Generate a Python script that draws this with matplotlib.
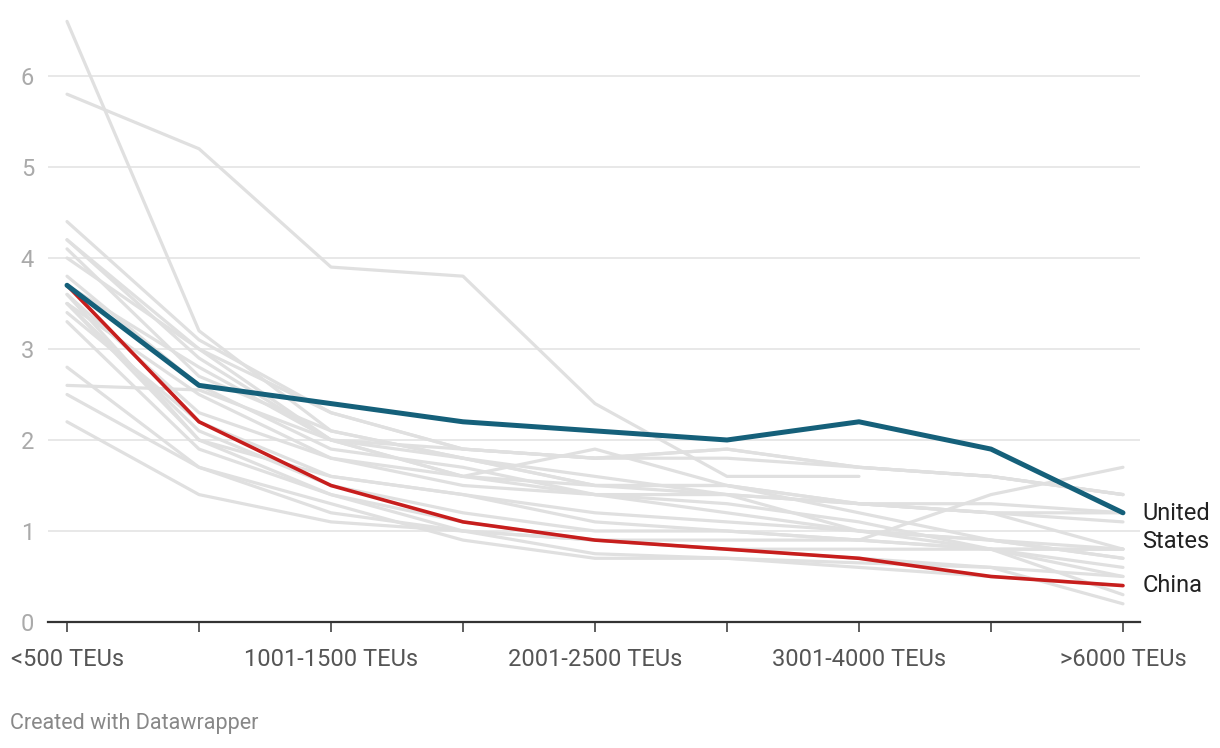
import numpy as np
import matplotlib
matplotlib.use('Agg')
import matplotlib.pyplot as plt

plt.rcParams['font.family'] = ['Roboto', 'DejaVu Sans']

# categories (only every other one is labelled in the chart)
categories = ['<500 TEUs', '501-1000 TEUs', '1001-1500 TEUs', '1501-2000 TEUs',
              '2001-2500 TEUs', '2501-3000 TEUs', '3001-4000 TEUs',
              '4001-6000 TEUs', '>6000 TEUs']
shown_labels = ['<500 TEUs', '', '1001-1500 TEUs', '', '2001-2500 TEUs', '',
                '3001-4000 TEUs', '', '>6000 TEUs']

united_states = [3.7, 2.6, 2.4, 2.2, 2.1, 2.0, 2.2, 1.9, 1.2]
china = [3.7, 2.2, 1.5, 1.1, 0.9, 0.8, 0.7, 0.5, 0.4]

nan = np.nan
# other countries, drawn in grey
others = [
    [6.6, 3.2, 2.1, 1.8, 1.5, 1.5, 1.3, 1.2, 1.1],
    [5.8, 5.2, 3.9, 3.8, 2.4, 1.6, 1.6, nan, nan],
    [4.4, 3.1, 2.3, 1.9, 1.8, 1.9, 1.7, 1.6, 1.4],
    [4.2, 2.9, 2.0, 1.6, 1.9, 1.5, 1.3, 1.2, 0.8],
    [4.1, 2.7, 2.1, 1.8, 1.6, 1.4, 1.3, 1.3, 1.2],
    [4.0, 3.0, 2.0, 1.8, 1.5, 1.5, 1.2, 0.9, 0.7],
    [3.8, 2.6, 1.9, 1.7, 1.4, 1.2, 1.0, 0.8, 0.5],
    [3.6, 2.0, 1.6, 1.4, 1.2, 1.1, 1.0, 0.9, 0.8],
    [3.5, 2.5, 1.8, 1.5, 1.4, 1.3, 1.1, 0.8, 0.3],
    [3.5, 2.1, 1.5, 1.2, 1.0, 1.0, 0.9, 0.8, 0.6],
    [3.3, 1.9, 1.4, 1.0, 0.9, 0.8, 0.7, 0.6, 0.5],
    [2.8, 1.7, 1.3, 0.9, 0.7, 0.7, 0.65, 0.6, 0.2],
    [2.6, 2.55, 2.0, 1.9, 1.8, 1.9, 1.7, 1.6, 1.4],
    [2.5, 1.7, 1.2, 1.0, 0.9, 0.9, 0.9, 1.4, 1.7],
    [2.2, 1.4, 1.1, 1.0, 0.75, 0.7, 0.6, 0.5, 0.4],
    [3.7, 2.8, 2.0, 1.6, 1.4, 1.4, 1.3, 1.2, 1.2],
    [4.2, 3.0, 2.3, 1.9, 1.8, 1.8, 1.7, 1.6, 1.4],
    [3.4, 2.2, 1.6, 1.4, 1.1, 1.0, 0.9, 0.8, 0.8],
    [3.6, 2.3, 1.8, 1.6, 1.5, 1.4, 1.0, 0.9, 0.7],
    [3.5, 2.0, 1.4, 1.1, 0.9, 0.8, 0.8, 0.8, 0.8],
]

fig = plt.figure(figsize=(12.2, 7.48), dpi=100)
ax = fig.add_axes([48 / 1220, 126 / 748, (1140 - 48) / 1220, (622 - 15) / 748])

x = np.arange(len(categories))
for row in others:
    ax.plot(x, row, color='#e0e0e0', lw=2.3, solid_capstyle='round', zorder=2)
ax.plot(x, china, color='#c71e1d', lw=2.6, solid_capstyle='round', zorder=4)
ax.plot(x, united_states, color='#15607a', lw=3.6, solid_capstyle='round', zorder=5)

ax.set_xlim(-0.144, 8.129)
ax.set_ylim(0, 6.67)

# gridlines
for v in range(1, 7):
    ax.axhline(v, color='#e6e6e6', lw=1.3, zorder=1)
ax.axhline(0, color='#333333', lw=1.6, zorder=6, clip_on=False)

for s in ax.spines.values():
    s.set_visible(False)

ax.set_yticks(range(0, 7))
ax.set_yticklabels([str(v) for v in range(0, 7)])
ax.tick_params(axis='y', length=0, pad=10, labelsize=17, labelcolor='#aaaaaa')
ax.set_xticks(x)
ax.set_xticklabels(shown_labels)
ax.tick_params(axis='x', length=7, width=1.1, color='#333333', pad=11.5,
               labelsize=17, labelcolor='#555555', direction='out')

# end labels
ax.annotate('United\nStates', xy=(8, united_states[-1]), xytext=(14, -10.5),
            textcoords='offset points', va='center', ha='left',
            fontsize=17, color='#222222', linespacing=1.25, annotation_clip=False)
ax.annotate('China', xy=(8, china[-1]), xytext=(14, 0),
            textcoords='offset points', va='center', ha='left',
            fontsize=17, color='#222222', annotation_clip=False)

fig.text(10 / 1220, 1 - 724 / 748, 'Created with Datawrapper', fontsize=15.5,
         color='#888888', ha='left', va='center')

fig.savefig('out.png', dpi=100)
